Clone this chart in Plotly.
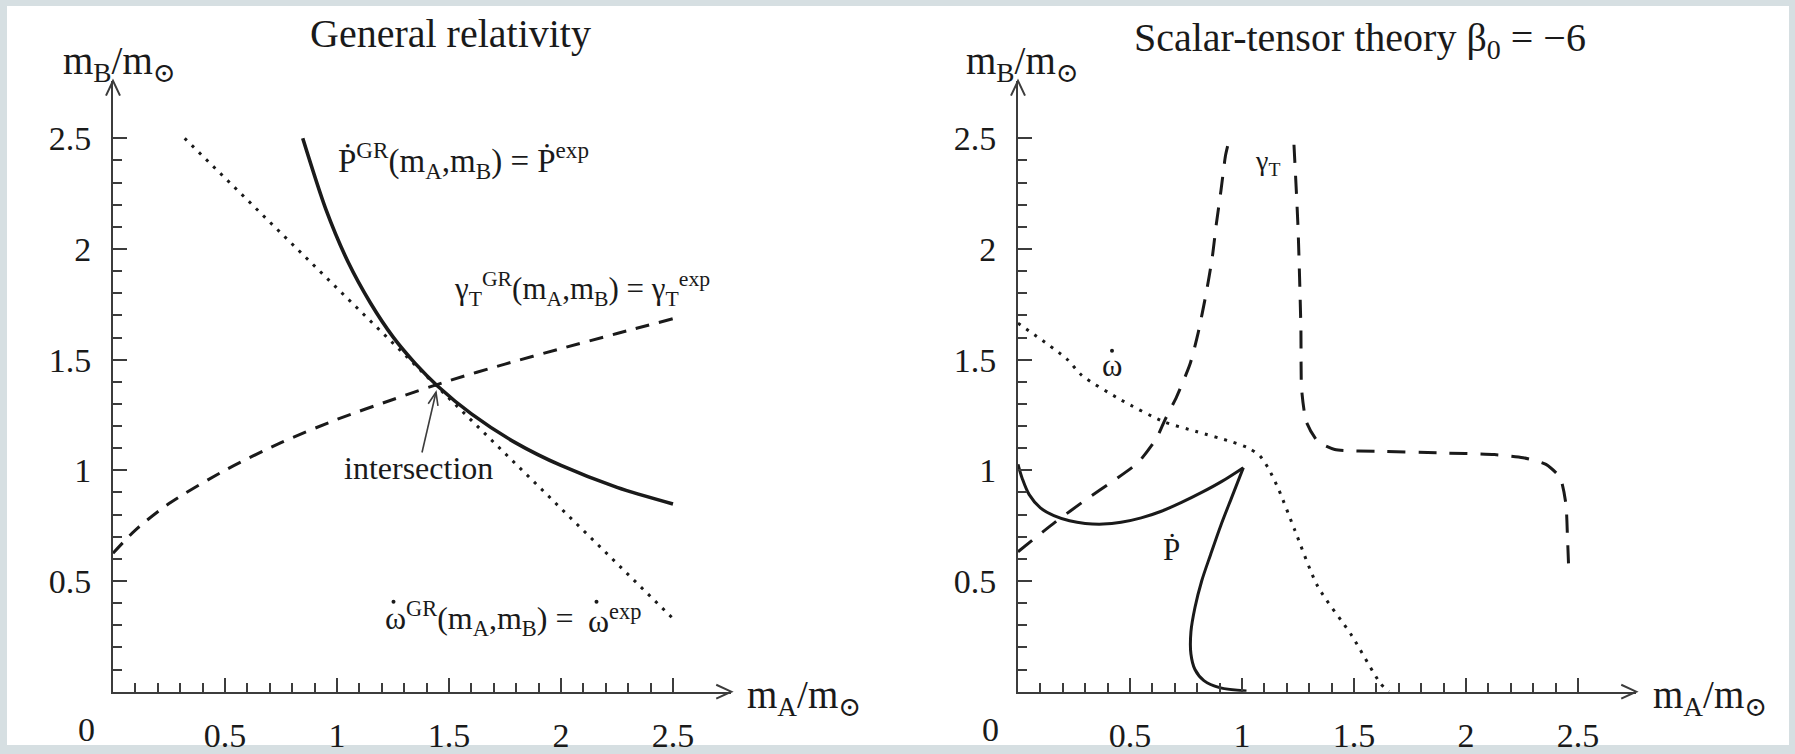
import math
import plotly.graph_objects as go

W, H = 1795, 754

# ---------------- data: General relativity panel ----------------
gr_pdot_x = [0.847, 0.95, 1.05, 1.15, 1.25, 1.35, 1.45, 1.6, 1.8, 2.0, 2.25, 2.5]
gr_pdot_y = [2.5, 2.18, 1.94, 1.755, 1.603, 1.482, 1.38, 1.255, 1.123, 1.022, 0.923, 0.848]

gr_gamma_x = [0.0, 0.1, 0.25, 0.5, 0.75, 1.0, 1.25, 1.5, 1.75, 2.0, 2.25, 2.5]
gr_gamma_y = [0.625, 0.73, 0.85, 1.0, 1.125, 1.23, 1.32, 1.405, 1.48, 1.55, 1.618, 1.685]

gr_omega_x = [0.32, 2.5]
gr_omega_y = [2.5, 0.33]

# ---------------- data: scalar-tensor panel (beta0 = -6) ----------------
st_gamma_a_x = [0.0, 0.166, 0.307, 0.425, 0.537, 0.619, 0.656, 0.708, 0.768, 0.804,
                0.84, 0.867, 0.885, 0.906, 0.926, 0.936]
st_gamma_a_y = [0.632, 0.766, 0.87, 0.952, 1.036, 1.146, 1.228, 1.332, 1.48, 1.62,
                1.8, 1.96, 2.11, 2.263, 2.42, 2.465]

st_gamma_b_x = [1.232, 1.25, 1.263, 1.266, 1.287, 1.338, 1.414, 1.618, 1.873, 2.127,
                2.255, 2.357, 2.42, 2.446, 2.453, 2.459]
st_gamma_b_y = [2.471, 2.1, 1.638, 1.369, 1.22, 1.131, 1.094, 1.086, 1.079, 1.071,
                1.057, 1.027, 0.967, 0.848, 0.699, 0.543]

st_omega_x = [0.0, 0.217, 0.285, 0.46, 0.65, 0.80, 0.95, 1.03, 1.08, 1.12, 1.165, 1.236,
              1.338, 1.49, 1.618, 1.656]
st_omega_y = [1.665, 1.504, 1.429, 1.318, 1.22, 1.174, 1.13, 1.1, 1.065, 1.005, 0.91, 0.729,
              0.476, 0.253, 0.037, 0.0]

st_pdot_upper_x = [0.0, 0.02, 0.05, 0.10, 0.16, 0.23, 0.30, 0.38, 0.46, 0.55, 0.64,
                   0.73, 0.82, 0.91, 1.006]
st_pdot_upper_y = [1.027, 0.96, 0.89, 0.83, 0.795, 0.772, 0.76, 0.757, 0.765, 0.785,
                   0.815, 0.855, 0.90, 0.95, 1.012]

st_pdot_lower_x = [1.006, 0.955, 0.905, 0.86, 0.82, 0.79, 0.772, 0.772, 0.79, 0.83, 0.90, 1.02]
st_pdot_lower_y = [1.012, 0.88, 0.75, 0.62, 0.50, 0.38, 0.27, 0.17, 0.10, 0.05, 0.018, 0.003]

# ---------------- axis ticks ----------------
major_ticks = [0.5, 1.0, 1.5, 2.0, 2.5]
major_labels = ["0.5", "1", "1.5", "2", "2.5"]
minor_ticks = [round(0.1 * k, 1) for k in range(1, 25) if k % 5 != 0]

# ---------------- geometry ----------------
X_MAX = 2.76
UNIT = 224.0
OX_L, OX_R, OY = 113.0, 1018.0, 700.0

FONT = "Liberation Serif, Times New Roman, DejaVu Serif, serif"
INK = "#1a1a1a"
AXC = "#3c3c3c"


def fx(p):
    return p / W


def fy(p):
    return 1 - p / H


fig = go.Figure()

# General relativity curves
fig.add_trace(go.Scatter(x=gr_pdot_x, y=gr_pdot_y, mode="lines", xaxis="x", yaxis="y",
                         line=dict(color=INK, width=3.6, shape="spline", smoothing=0.8)))
fig.add_trace(go.Scatter(x=gr_gamma_x, y=gr_gamma_y, mode="lines", xaxis="x", yaxis="y",
                         line=dict(color=INK, width=3, dash="14px,10px", shape="spline", smoothing=0.8)))
fig.add_trace(go.Scatter(x=gr_omega_x, y=gr_omega_y, mode="lines", xaxis="x", yaxis="y",
                         line=dict(color=INK, width=3, dash="3px,7px")))

# Scalar-tensor curves
for gx, gy in ((st_gamma_a_x, st_gamma_a_y), (st_gamma_b_x, st_gamma_b_y)):
    fig.add_trace(go.Scatter(x=gx, y=gy, mode="lines", xaxis="x2", yaxis="y2",
                             line=dict(color=INK, width=3, dash="18px,13px",
                                       shape="spline", smoothing=0.6)))
fig.add_trace(go.Scatter(x=st_omega_x, y=st_omega_y, mode="lines", xaxis="x2", yaxis="y2",
                         line=dict(color=INK, width=3, dash="3px,7px", shape="spline", smoothing=0.7)))
for px_, py_ in ((st_pdot_upper_x, st_pdot_upper_y), (st_pdot_lower_x, st_pdot_lower_y)):
    fig.add_trace(go.Scatter(x=px_, y=py_, mode="lines", xaxis="x2", yaxis="y2",
                             line=dict(color=INK, width=3, shape="spline", smoothing=0.9)))


def axis_style(domain, anchor):
    return dict(
        domain=domain, anchor=anchor, range=[0, X_MAX], fixedrange=True,
        showgrid=False, zeroline=False, showline=True, linecolor=AXC, linewidth=2,
        ticks="inside", ticklen=14, tickwidth=2, tickcolor=AXC,
        tickmode="array", tickvals=major_ticks, ticktext=major_labels,
        minor=dict(tickmode="array", tickvals=minor_ticks, ticks="inside",
                   ticklen=9, tickwidth=2, tickcolor=AXC, showgrid=False),
        tickfont=dict(family=FONT, size=34, color=INK),
        ticklabelstandoff=13,
    )


ydom = [(H - OY) / H, (H - OY + X_MAX * UNIT) / H]
xdom_l = [fx(OX_L), fx(OX_L + X_MAX * UNIT)]
xdom_r = [fx(OX_R), fx(OX_R + X_MAX * UNIT)]

shapes = [
    dict(type="rect", xref="paper", yref="paper", x0=fx(7), x1=fx(1789), y0=0, y1=fy(6),
         fillcolor="white", line=dict(width=0), layer="below"),
]


def chevron(tx, ty, ang_deg, length=15, half=7):
    """Open arrowhead at pixel (tx, ty) pointing in direction ang_deg (screen coords)."""
    a = math.radians(ang_deg)
    dx, dy = math.cos(a), math.sin(a)
    nx, ny = -dy, dx
    bx, by = tx - dx * length, ty - dy * length
    p1 = (bx + nx * half, by + ny * half)
    p2 = (bx - nx * half, by - ny * half)
    path = "M {:.5f},{:.5f} L {:.5f},{:.5f} L {:.5f},{:.5f}".format(
        fx(p1[0]), fy(p1[1]), fx(tx), fy(ty), fx(p2[0]), fy(p2[1]))
    return dict(type="path", xref="paper", yref="paper", path=path,
                line=dict(color=AXC, width=2))


def dot(cx, cy, r=2.0):
    return dict(type="circle", xref="paper", yref="paper",
                x0=fx(cx - r), x1=fx(cx + r), y0=fy(cy + r), y1=fy(cy - r),
                fillcolor=INK, line=dict(width=0))


for ox in (OX_L, OX_R):
    shapes.append(chevron(ox + X_MAX * UNIT, OY, 0))
    shapes.append(chevron(ox, OY - X_MAX * UNIT, -90))

# pointer to the intersection point
a_start, a_tip = (422, 458), (436, 397)
shapes.append(dict(type="line", xref="paper", yref="paper",
                   x0=fx(a_start[0]), y0=fy(a_start[1]), x1=fx(a_tip[0]), y1=fy(a_tip[1]),
                   line=dict(color=AXC, width=1.6)))
ang = math.degrees(math.atan2(a_tip[1] - a_start[1], a_tip[0] - a_start[0]))
ch = chevron(a_tip[0], a_tip[1], ang, length=13, half=5)
ch["line"]["width"] = 1.6
shapes.append(ch)

# time-derivative dots over the omegas
shapes += [dot(393.5, 609), dot(596.5, 609), dot(1112, 355)]


def label(text, x, y, size=31, xanchor="left", yanchor="middle"):
    return dict(text=text, x=fx(x), y=fy(y), xref="paper", yref="paper",
                xanchor=xanchor, yanchor=yanchor, showarrow=False,
                font=dict(family=FONT, size=size, color=INK))


annotations = [
    label("General relativity", 450, 34, size=40, xanchor="center"),
    label("Scalar-tensor theory β<sub>0</sub> = \u22126", 1132, 40, size=40),
    label("m<sub>B</sub>/m<sub>\u2299</sub>", 119, 64, size=39, xanchor="center"),
    label("m<sub>B</sub>/m<sub>\u2299</sub>", 1022, 64, size=39, xanchor="center"),
    label("m<sub>A</sub>/m<sub>\u2299</sub>", 745, 706, size=39),
    label("m<sub>A</sub>/m<sub>\u2299</sub>", 1651, 706, size=39),
    label("0", 86, 738, size=34, xanchor="center"),
    label("0", 990, 738, size=34, xanchor="center"),
    label("\u1E56<sup>GR</sup>(m<sub>A</sub>,m<sub>B</sub>) = \u1E56<sup>exp</sup>", 336, 162, size=33),
    label("γ<sub>T</sub><sup>GR</sup>(m<sub>A</sub>,m<sub>B</sub>) = γ<sub>T</sub><sup>exp</sup>",
          452, 292, size=31),
    label("intersection", 418, 474, size=32, xanchor="center"),
    label("ω<sup>GR</sup>(m<sub>A</sub>,m<sub>B</sub>) = ", 383, 626, size=32),
    label("ω<sup>exp</sup>", 586, 626, size=32),
    label("ω", 1112, 370, size=31, xanchor="center"),
    label("\u1E56", 1171, 556, size=31, xanchor="center"),
    label("γ<sub>T</sub>", 1267, 164, size=28, xanchor="center"),
]

fig.update_layout(
    width=W, height=H, margin=dict(l=0, r=0, t=0, b=0),
    paper_bgcolor="#d6dfe2", plot_bgcolor="rgba(0,0,0,0)",
    showlegend=False,
    xaxis=axis_style(xdom_l, "y"), yaxis=axis_style(ydom, "x"),
    xaxis2=axis_style(xdom_r, "y2"), yaxis2=axis_style(ydom, "x2"),
    shapes=shapes, annotations=annotations,
)

fig.write_html("out.html")
